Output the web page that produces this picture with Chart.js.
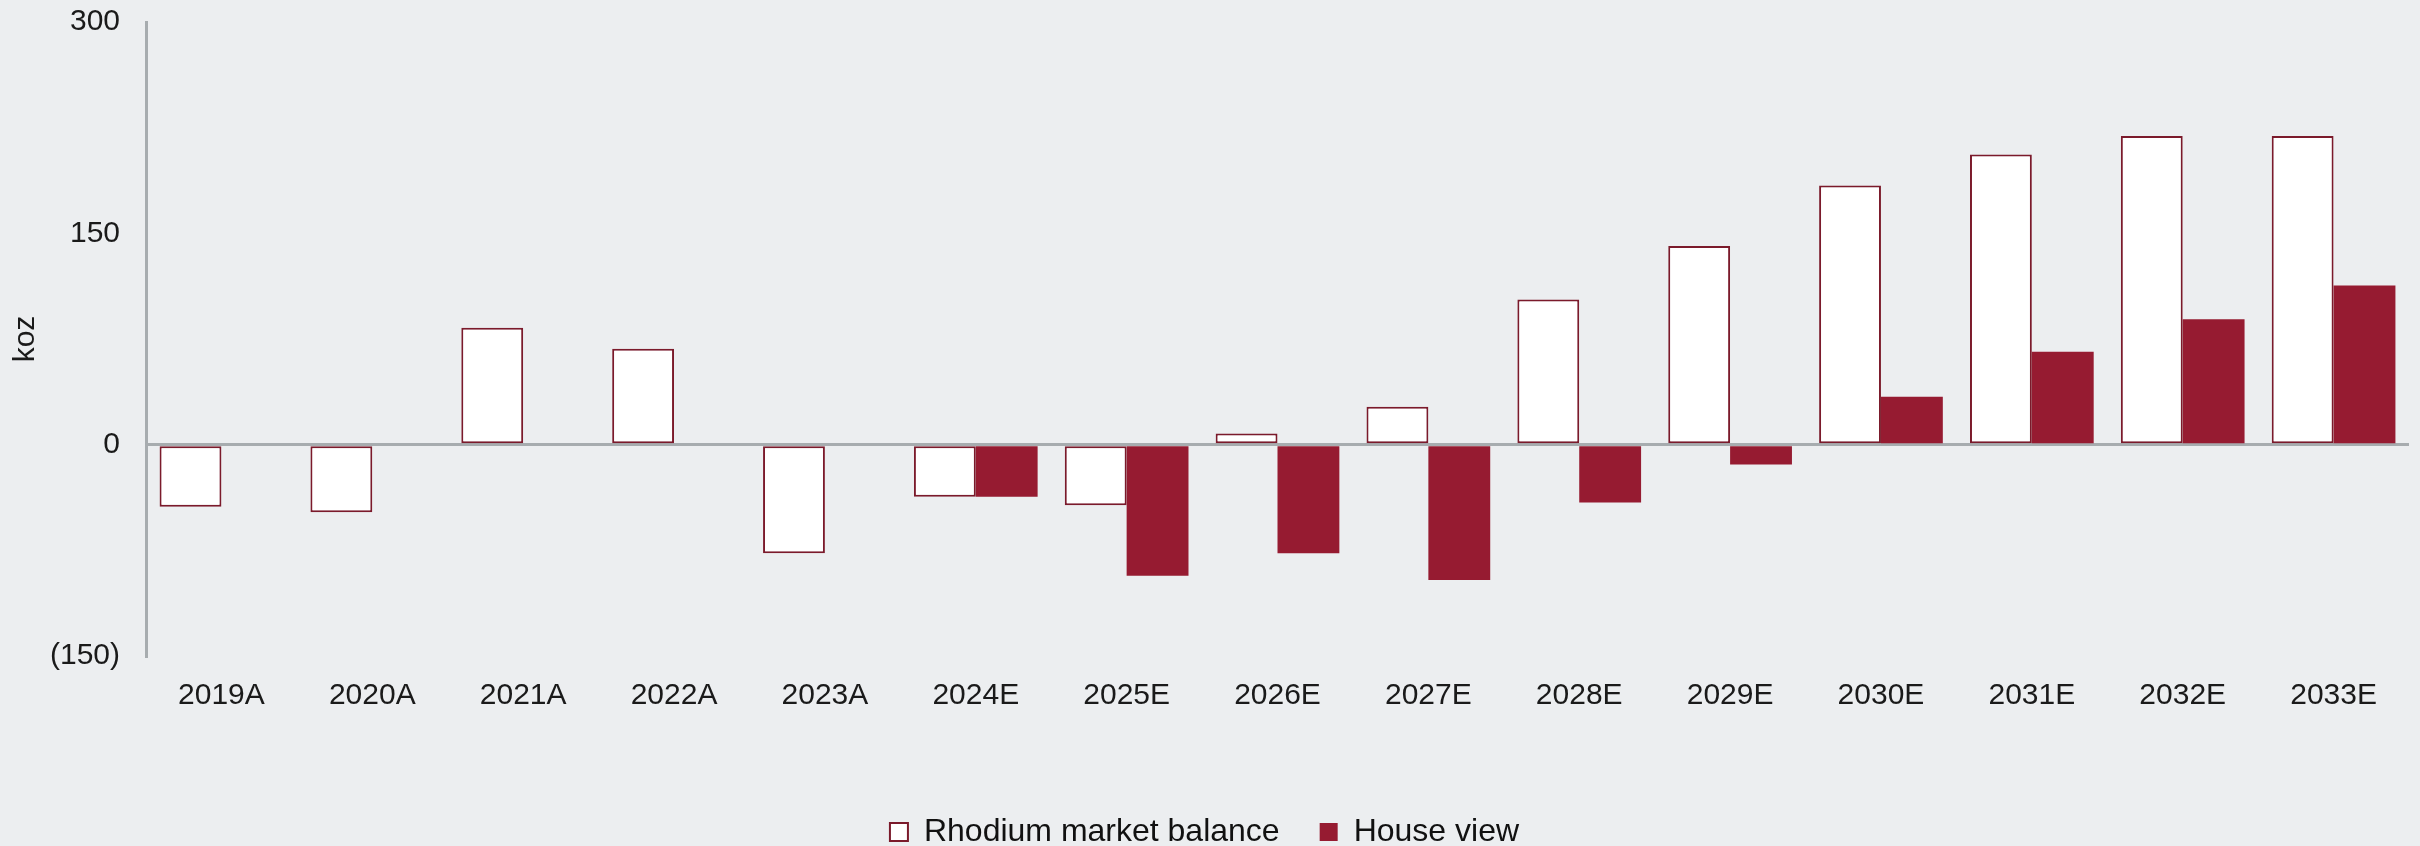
<!DOCTYPE html>
<html>
<head>
<meta charset="utf-8">
<script src="https://cdn.jsdelivr.net/npm/chart.js@4.4.0/dist/chart.umd.min.js"></script>
<style>
  html, body { margin: 0; padding: 0; background: #eceef0; }
  #wrap { width: 2420px; height: 846px; position: relative; }
</style>
</head>
<body>
<div id="wrap"><canvas id="chart"></canvas></div>
<script>
// ---- data ----
const years = ['2019A', '2020A', '2021A', '2022A', '2023A', '2024E', '2025E', '2026E',
  '2027E', '2028E', '2029E', '2030E', '2031E', '2032E', '2033E'];
const marketBalance = [-44, -48, 83, 68, -77, -37, -43, 8, 27, 103, 141, 184, 206, 219, 219];
const houseView = [null, null, null, null, null, -37, -93, -77, -96, -41, -14, 34, 66, 89, 113];
const yMin = -150;
const yMax = 300;
const yStep = 150;

const RED = '#961b31';
const RED_EDGE = '#7b1a2b';
const AXIS = '#a7acaf';
const FONT = "'Liberation Sans', Arial, sans-serif";

const fmt = (v) => (v < 0 ? `(${Math.abs(v)})` : `${v}`);

new Chart(document.getElementById('chart'), {
  type: 'bar',
  data: {
    labels: years,
    datasets: [
      {
        label: 'Rhodium market balance',
        data: marketBalance,
        backgroundColor: '#ffffff',
        borderColor: RED_EDGE,
        borderWidth: 2,
        borderSkipped: false,
      },
      {
        label: 'House view',
        data: houseView,
        backgroundColor: RED,
        borderColor: RED,
        borderWidth: 0,
      },
    ],
  },
  options: {
    responsive: true,
    maintainAspectRatio: false,
    animation: false,
    layout: { padding: { left: 0, right: 11, top: 22, bottom: -12 } },
    datasets: { bar: { categoryPercentage: 0.82, barPercentage: 1.0 } },
    plugins: {
      tooltip: { enabled: false },
      legend: {
        position: 'bottom',
        labels: {
          font: { family: FONT, size: 32 },
          color: '#111',
          boxWidth: 18,
          boxHeight: 18,
          padding: 40,
        },
      },
    },
    scales: {
      x: {
        afterFit: (scale) => { scale.height = 120; },
        grid: { display: false, drawTicks: false },
        border: { display: false },
        ticks: { font: { family: FONT, size: 30 }, color: '#1a1a1a', padding: 22 },
      },
      y: {
        min: yMin,
        max: yMax,
        z: 1,
        afterFit: (scale) => {
          // keep the tick-label gap without it pushing the plot down
          scale.width = 146;
          scale.paddingTop = 4;
          scale.paddingBottom = 4;
        },
        border: { display: true, color: AXIS, width: 3 },
        grid: {
          drawTicks: false,
          color: (ctx) => (ctx.tick && ctx.tick.value === 0 ? AXIS : 'rgba(0,0,0,0)'),
          lineWidth: 3,
        },
        ticks: {
          stepSize: yStep,
          padding: 26,
          font: { family: FONT, size: 30 },
          color: '#1a1a1a',
          callback: (v) => fmt(v),
        },
        title: {
          display: true,
          text: 'koz',
          font: { family: FONT, size: 30 },
          color: '#1a1a1a',
          padding: { top: 8, bottom: 0 },
        },
      },
    },
  },
});
</script>
</body>
</html>
